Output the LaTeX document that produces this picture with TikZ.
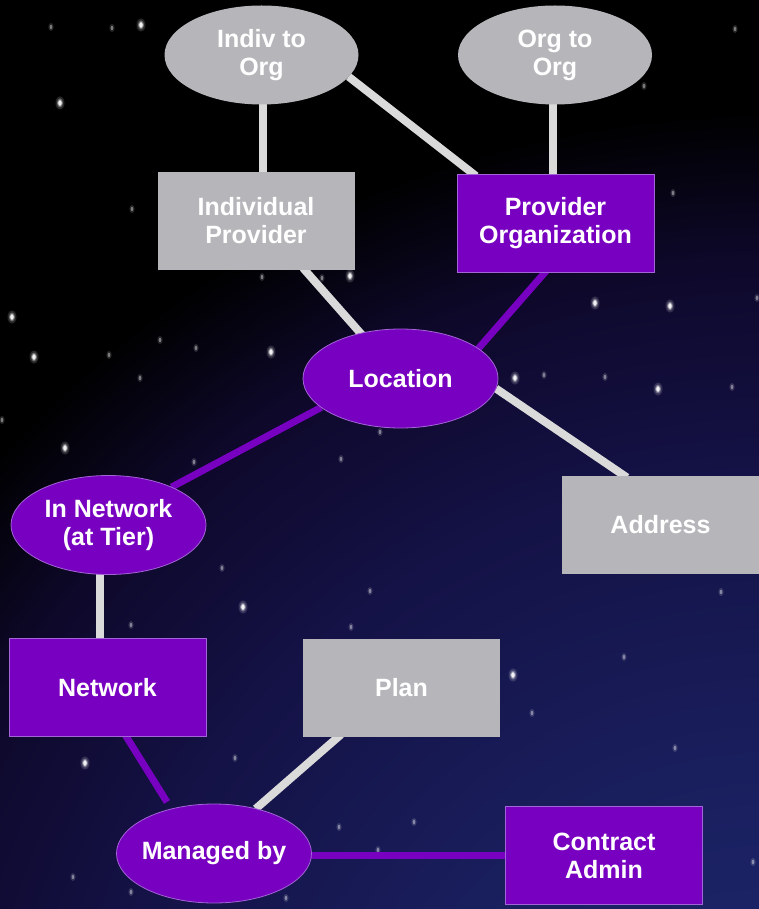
\documentclass[tikz,border=0pt]{standalone}
\usepackage{fontspec}
\setmainfont{Liberation Sans}
\usetikzlibrary{shapes.geometric,calc}
\definecolor{purp}{HTML}{7800C0}
\definecolor{purpedge}{HTML}{A264D6}
\definecolor{nodegray}{HTML}{B6B5BA}
\definecolor{linegray}{HTML}{DADADA}
\definecolor{skyA}{HTML}{1F2B72}
\definecolor{skyB}{HTML}{1A2060}
\definecolor{skyC}{HTML}{141246}
\definecolor{skyD}{HTML}{0E082A}
\pgfdeclareradialshading{sky}{\pgfpoint{0bp}{0bp}}{color(0bp)=(skyA); color(8bp)=(skyB); color(16bp)=(skyC); color(21bp)=(skyD); color(24.5bp)=(black); color(50bp)=(black)}
\pgfdeclarelayer{skylayer}
\pgfdeclarelayer{edgelayer}
\pgfsetlayers{skylayer,edgelayer,main}
\begin{document}
\begin{tikzpicture}[x=1pt,y=-1pt,
  txt/.style={font=\fontsize{25}{28}\selectfont\bfseries, text=white, align=center},
  graybox/.style={txt, rectangle, fill=nodegray, minimum width=197pt, minimum height=98pt, inner sep=0pt, outer sep=0pt},
  purpbox/.style={txt, rectangle, fill=purp, draw=purpedge, line width=0.8pt, minimum width=197pt, minimum height=98pt, inner sep=0pt, outer sep=0pt},
  grayell/.style={txt, ellipse, fill=nodegray, minimum width=194pt, minimum height=99pt, inner xsep=-15pt, inner ysep=-10pt, outer sep=0pt},
  purpell/.style={txt, ellipse, fill=purp, draw=purpedge, line width=0.8pt, minimum width=195pt, minimum height=99pt, inner xsep=-15pt, inner ysep=-10pt, outer sep=0pt},
  grayline/.style={draw=linegray, line width=8pt},
  purpline/.style={draw=purp, line width=7pt},
]
\useasboundingbox (0,0) rectangle (759,909);
\begin{pgfonlayer}{skylayer}
\begin{scope}
\clip (0,0) rectangle (759,909);
\fill[black] (0,0) rectangle (759,909);
\shade[shading=sky] (770,1150) circle (1060pt);
\foreach \x/\y in {141/25,60/103,12/317,34/357,271/352,65/448,243/607,595/303,670/306,515/378,658/389,513/675,85/763,350/276}{
  \fill[white,opacity=0.15] (\x,\y) ellipse (4.5pt and 6.5pt);
  \fill[white,opacity=0.35] (\x,\y) ellipse (3pt and 4.5pt);
  \fill[white,opacity=0.9] (\x,\y) ellipse (1.8pt and 2.8pt);
}
\foreach \x/\y in {51/27,112/28,735/29,644/86,132/209,109/355,160/340,196/348,140/378,2/420,194/462,341/459,222/568,370/591,351/627,673/193,757/298,544/375,605/377,732/387,380/432,721/592,131/625,624/657,532/713,675/748,235/758,414/822,339/827,73/877,131/892,286/898,378/850,753/862,262/277,322/278}{
  \fill[white,opacity=0.15] (\x,\y) ellipse (2.6pt and 4pt);
  \fill[white,opacity=0.4] (\x,\y) ellipse (1.3pt and 2.2pt);
}
\end{scope}
\end{pgfonlayer}

\node[grayell] (io) at (261.5,55) {Indiv to\\Org};
\node[grayell] (oo) at (555,55) {Org to\\Org};
\node[graybox] (ip) at (256,221) {Individual\\Provider};
\node[purpbox] (po) at (555.5,223) {Provider\\Organization};
\node[purpell] (loc) at (400.5,378.5) {Location};
\node[purpell] (innet) at (108.5,525) {In Network\\(at Tier)};
\node[graybox] (addr) at (660.5,524.5) {Address};
\node[purpbox] (net) at (107.5,687.5) {Network};
\node[graybox] (plan) at (401.5,687.5) {Plan};
\node[purpell] (mb) at (214,853.5) {Managed by};
\node[purpbox] (ca) at (604,855.5) {Contract\\Admin};

\begin{pgfonlayer}{edgelayer}
\draw[grayline] ($(io.center)+(1.5,0)$) -- ($(io.center |- ip.north)+(1.5,2)$);
\draw[grayline] (io.-14) -- ($(po.north west)+(19,2)$);
\draw[grayline] ($(oo.center)+(-2,0)$) -- ($(oo.center |- po.north)+(-2,2)$);
\draw[grayline] ($(ip.south)+(47,-2)$) -- (loc.center);
\draw[purpline] ($(po.south)+(-8.5,-2)$) -- (loc.21);
\draw[purpline] (loc.200) -- (innet.31);
\draw[grayline] (loc.-6) -- ($(addr.north west)+(65,2)$);
\draw[grayline] ($(innet.center)+(-9,0)$) -- ($(innet.center |- net.north)+(-9,2)$);
\coordinate (netend) at ($(mb.north)+(-47,-2)$);
\draw[purpline] ($(net.south)+(17.5,-2)$) -- (netend);
\draw[grayline] ($(plan.south)+(-60.5,-2)$) -- (mb.47);
\draw[purpline] (mb.center |- ca.west) -- (ca.west);
\end{pgfonlayer}
\end{tikzpicture}
\end{document}
